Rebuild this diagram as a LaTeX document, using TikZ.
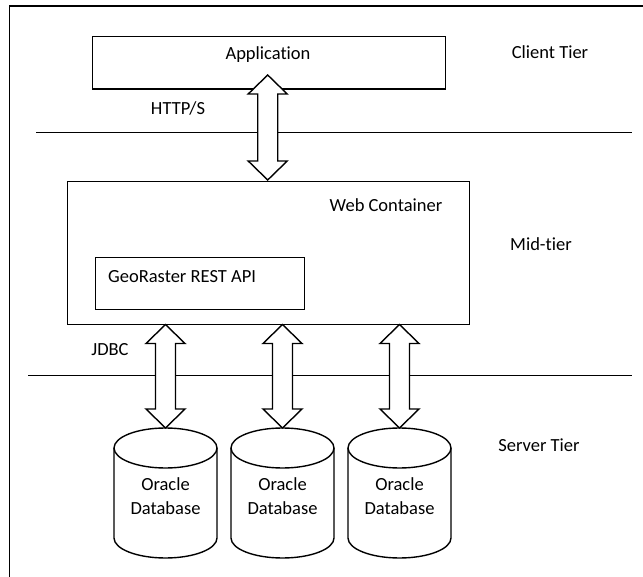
\documentclass[tikz,border=0pt]{standalone}
\usepackage{fontspec}
\setmainfont{Carlito}[Ligatures=NoCommon]
\usetikzlibrary{calc}
\newcommand{\dblarrow}[2]{%
  \draw[blockarrow] let \p1=(#1), \p2=(#2) in
    (\p1) -- (\x1+19.5pt,\y1-19pt) -- (\x1+10pt,\y1-19pt) -- (\x1+10pt,\y2+19pt)
    -- (\x1+19.5pt,\y2+19pt) -- (\x1,\y2) -- (\x1-19.5pt,\y2+19pt) -- (\x1-10pt,\y2+19pt)
    -- (\x1-10pt,\y1-19pt) -- (\x1-19.5pt,\y1-19pt) -- cycle;}
\newcommand{\dbcyl}[2]{%
  \coordinate (#1) at (#2,428);
  \draw[cyl] (#2-51.5,448) -- (#2-51.5,538) arc[start angle=180,end angle=0,x radius=51.5,y radius=20] -- (#2+51.5,448);
  \draw[cyl] (#2,448) ellipse[x radius=51.5,y radius=20];
  \node[lbl, align=center] (#1txt) at (#2,496) {Oracle\\Database};}
\begin{document}
\begin{tikzpicture}[x=1pt,y=-1pt,
  font=\fontsize{18.5}{24}\selectfont,
  box/.style={draw, line width=1.4pt, inner sep=0pt},
  divider/.style={line width=0.9pt},
  frame/.style={line width=1.6pt},
  blockarrow/.style={draw, fill=white, line width=1.4pt, line join=miter},
  cyl/.style={draw, fill=white, line width=1.4pt},
  lbl/.style={inner sep=0pt}]
\useasboundingbox (0,0) rectangle (643,577);
% frame
\draw[frame] (9.5,577) -- (9.5,6) -- (643,6);
% dividers
\draw[divider] (36,132.5) -- (632,132.5);
\draw[divider] (28,375.5) -- (632,375.5);
% boxes
\node[box, anchor=north west, minimum width=353.3pt, minimum height=52.6pt] (app) at (91.7,35.7) {};
\node[box, anchor=north west, minimum width=402.3pt, minimum height=143.3pt] (web) at (66.7,180.7) {};
\node[box, anchor=north west, minimum width=209pt, minimum height=52pt] (geo) at (95,257) {};
% texts
\node[lbl] (apptxt) at (268,55) {Application};
\node[lbl] (client) at (550,52) {Client Tier};
\node[lbl] (http) at (178,108) {HTTP/S};
\node[lbl] (webtxt) at (386,205) {Web Container};
\node[lbl] (mid) at (541,244) {Mid-tier};
\node[lbl, anchor=west] (geotxt) at (108,277) {GeoRaster REST API};
\node[lbl] (jdbc) at (110,350) {JDBC};
\node[lbl] (server) at (539,445) {Server Tier};
% databases
\dbcyl{db1}{165.5}
\dbcyl{db2}{282.5}
\dbcyl{db3}{399.5}
% arrow end points
\coordinate (a1t) at (267.7,75);
\coordinate (a1b) at (267.7,180);
\coordinate (w1) at (165.5,324.5);
\coordinate (w2) at (282.5,324.5);
\coordinate (w3) at (399.5,324.5);
% arrows
\dblarrow{a1t}{a1b}
\dblarrow{w1}{db1}
\dblarrow{w2}{db2}
\dblarrow{w3}{db3}
\end{tikzpicture}
\end{document}
